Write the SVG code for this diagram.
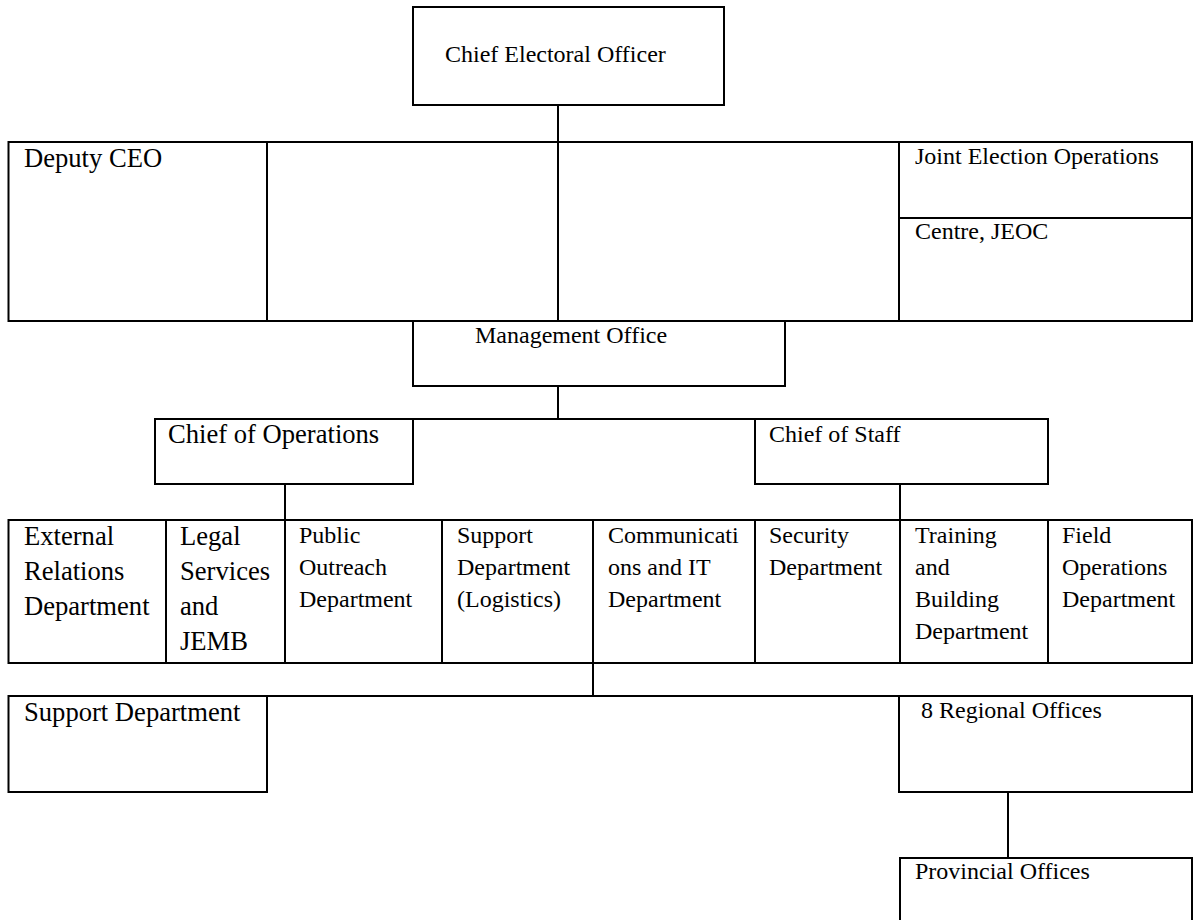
<svg xmlns="http://www.w3.org/2000/svg" width="1194" height="920" viewBox="0 0 1194 920">
<style>
.box{fill:#fff;stroke:#000;stroke-width:2}
.ln{fill:none;stroke:#000;stroke-width:2}
text{font-family:"Liberation Serif","Times New Roman",serif;fill:#000}
.s{font-size:24px}
.l{font-size:26.6px}
</style>
<rect width="1194" height="920" fill="#fff"/>
<g id="connectors">
<line class="ln" x1="558" y1="105" x2="558" y2="142"/>
<line class="ln" x1="558" y1="386" x2="558" y2="419"/>
<line class="ln" x1="413" y1="419" x2="755" y2="419"/>
<line class="ln" x1="285" y1="484" x2="285" y2="520"/>
<line class="ln" x1="900" y1="484" x2="900" y2="520"/>
<line class="ln" x1="593" y1="663" x2="593" y2="696"/>
<line class="ln" x1="267" y1="696" x2="899" y2="696"/>
<line class="ln" x1="1008" y1="792" x2="1008" y2="858"/>
</g>
<g id="ceo">
<rect class="box" x="413" y="7" width="311" height="98"/>
<text class="s" x="445" y="62">Chief Electoral Officer</text>
</g>
<g id="deputy-row">
<rect class="box" x="8.5" y="142" width="1183.5" height="179"/>
<line class="ln" x1="267" y1="142" x2="267" y2="321"/>
<line class="ln" x1="558" y1="142" x2="558" y2="321"/>
<line class="ln" x1="899" y1="142" x2="899" y2="321"/>
<line class="ln" x1="899" y1="218" x2="1192" y2="218"/>
</g>
<g id="deputy-ceo"><text class="l" x="24" y="167">Deputy CEO</text></g>
<g id="jeoc">
<text class="s" x="915" y="164">Joint Election Operations</text>
<text class="s" x="915" y="239">Centre, JEOC</text>
</g>
<g id="management">
<rect class="box" x="413" y="321" width="372" height="65"/>
<text class="s" x="475" y="343">Management Office</text>
</g>
<g id="chief-ops">
<rect class="box" x="155" y="419" width="258" height="65"/>
<text class="l" x="168" y="443">Chief of Operations</text>
</g>
<g id="chief-staff">
<rect class="box" x="755" y="419" width="293" height="65"/>
<text class="s" x="769" y="442">Chief of Staff</text>
</g>
<g id="dept-row">
<rect class="box" x="8.5" y="520" width="1183.5" height="143"/>
<line class="ln" x1="166" y1="520" x2="166" y2="663"/>
<line class="ln" x1="285" y1="520" x2="285" y2="663"/>
<line class="ln" x1="442" y1="520" x2="442" y2="663"/>
<line class="ln" x1="593" y1="520" x2="593" y2="663"/>
<line class="ln" x1="755" y1="520" x2="755" y2="663"/>
<line class="ln" x1="900" y1="520" x2="900" y2="663"/>
<line class="ln" x1="1048" y1="520" x2="1048" y2="663"/>
</g>
<g id="external"><text class="l" x="24" y="545">External</text><text class="l" x="24" y="580">Relations</text><text class="l" x="24" y="615">Department</text></g>
<g id="legal"><text class="l" x="180" y="545">Legal</text><text class="l" x="180" y="580">Services</text><text class="l" x="180" y="615">and</text><text class="l" x="180" y="650">JEMB</text></g>
<g id="outreach"><text class="s" x="299" y="543">Public</text><text class="s" x="299" y="575">Outreach</text><text class="s" x="299" y="607">Department</text></g>
<g id="logistics"><text class="s" x="457" y="543">Support</text><text class="s" x="457" y="575">Department</text><text class="s" x="457" y="607">(Logistics)</text></g>
<g id="comms"><text class="s" x="608" y="543">Communicati</text><text class="s" x="608" y="575">ons and IT</text><text class="s" x="608" y="607">Department</text></g>
<g id="security"><text class="s" x="769" y="543">Security</text><text class="s" x="769" y="575">Department</text></g>
<g id="training"><text class="s" x="915" y="543">Training</text><text class="s" x="915" y="575">and</text><text class="s" x="915" y="607">Building</text><text class="s" x="915" y="639">Department</text></g>
<g id="field"><text class="s" x="1062" y="543">Field</text><text class="s" x="1062" y="575">Operations</text><text class="s" x="1062" y="607">Department</text></g>
<g id="support">
<rect class="box" x="8.5" y="696" width="258.5" height="96"/>
<text class="l" x="24" y="721">Support Department</text>
</g>
<g id="regional">
<rect class="box" x="899" y="696" width="293" height="96"/>
<text class="s" x="921" y="718">8 Regional Offices</text>
</g>
<g id="provincial">
<rect class="box" x="900" y="858" width="292" height="80"/>
<text class="s" x="915" y="879">Provincial Offices</text>
</g>
</svg>
